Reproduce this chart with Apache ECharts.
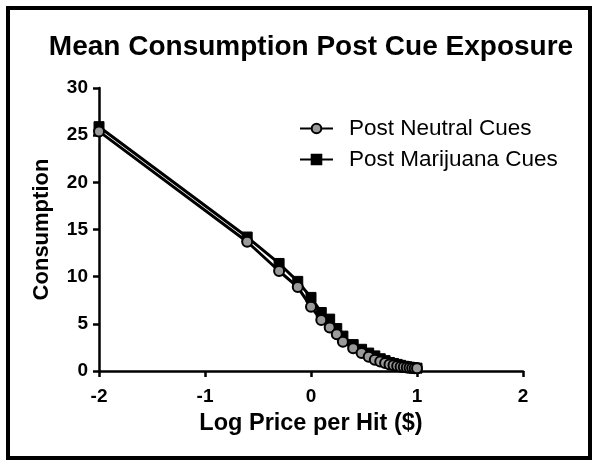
<!DOCTYPE html>
<html><head><meta charset="utf-8">
<script src="https://cdn.jsdelivr.net/npm/echarts@6/dist/echarts.min.js"></script>
<style>html,body{margin:0;padding:0;background:#fff}#c{width:600px;height:469px}</style>
</head><body><div id="c"></div>
<script>
const prices = [0.01,0.25,0.5,0.75,1,1.25,1.5,1.75,2,2.5,3,3.5,4,4.5,5,5.5,6,6.5,7,7.5,8,8.5,9,9.5,10];
const neutral = [25.4,13.7,10.6,8.9,6.8,5.4,4.6,3.9,3.1,2.4,1.9,1.5,1.2,1.0,0.85,0.7,0.6,0.52,0.46,0.42,0.38,0.35,0.32,0.3,0.28];
const marijuana = [25.9,14.2,11.4,9.5,7.8,6.2,5.5,4.5,3.7,2.8,2.3,1.9,1.6,1.3,1.1,0.9,0.8,0.7,0.6,0.5,0.45,0.4,0.35,0.32,0.3];
const xTicks = [-2,-1,0,1,2];
const yTicks = [0,5,10,15,20,25,30];
const seriesNames = ['Post Neutral Cues','Post Marijuana Cues'];
const logX = prices.map(p => Math.log10(p));
const FONT = '"Liberation Sans", Arial, sans-serif';
const chart = echarts.init(document.getElementById('c'));
chart.setOption({
  animation:false,
  backgroundColor:'#fff',
  graphic:[{type:'rect',shape:{x:8,y:8,width:582,height:450},style:{fill:'none',stroke:'#000',lineWidth:4},z:-1}],
  title:{text:'Mean Consumption Post Cue Exposure',left:306,textAlign:'center',top:28,
    textStyle:{fontFamily:FONT,fontSize:28,fontWeight:'bold',color:'#000'}},
  legend:{orient:'vertical',left:294,top:112,itemWidth:33,itemHeight:12,itemGap:8,
    textStyle:{fontFamily:FONT,fontSize:22.5,color:'#000',padding:[0,0,0,11]},data:seriesNames},
  grid:{left:99,right:77,top:88,bottom:98,containLabel:false},
  xAxis:{type:'value',min:xTicks[0],max:xTicks[xTicks.length-1],interval:1,
    name:'Log Price per Hit ($)',nameLocation:'middle',nameGap:41,
    nameTextStyle:{fontFamily:FONT,fontSize:23.5,fontWeight:'bold',color:'#000'},
    axisLine:{onZero:false,lineStyle:{color:'#000',width:2.5}},
    axisTick:{show:true,length:6,lineStyle:{color:'#000',width:2.5}},
    axisLabel:{fontFamily:FONT,fontSize:19,fontWeight:'bold',color:'#000',margin:16},
    splitLine:{show:false}},
  yAxis:{type:'value',min:yTicks[0],max:yTicks[yTicks.length-1],interval:5,
    name:'Consumption',nameLocation:'middle',nameGap:46,
    nameTextStyle:{fontFamily:FONT,fontSize:22,fontWeight:'bold',color:'#000'},
    axisLine:{show:true,onZero:false,lineStyle:{color:'#000',width:2.5}},
    axisTick:{show:true,length:6,lineStyle:{color:'#000',width:2.5}},
    axisLabel:{fontFamily:FONT,fontSize:19,fontWeight:'bold',color:'#000',margin:11},
    splitLine:{show:false}},
  series:[
    {name:seriesNames[1],type:'line',data:logX.map((x,i)=>[x,marijuana[i]]),
     symbol:'rect',symbolSize:10,lineStyle:{color:'#000',width:3},
     itemStyle:{color:'#000',borderColor:'#000',borderWidth:1},z:2},
    {name:seriesNames[0],type:'line',data:logX.map((x,i)=>[x,neutral[i]]),
     symbol:'circle',symbolSize:10,lineStyle:{color:'#000',width:3},
     itemStyle:{color:'#9a9a9a',borderColor:'#000',borderWidth:2},z:3}
  ]
});
</script></body></html>
